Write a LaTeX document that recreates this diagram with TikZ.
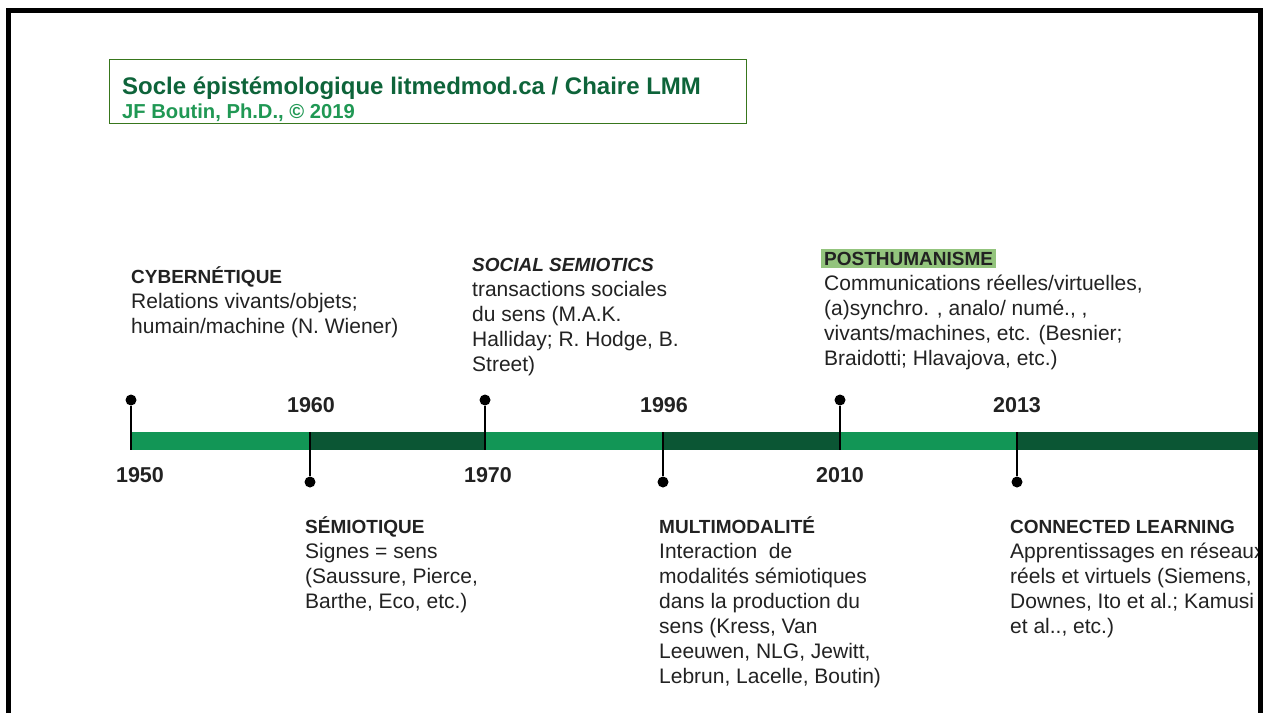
\documentclass[tikz,border=0pt]{standalone}
\usepackage{fontspec}
\setmainfont{Liberation Sans}
\usepackage{tikz}

\definecolor{barlight}{RGB}{18,150,86}
\definecolor{bardark}{RGB}{11,86,52}
\definecolor{titledark}{RGB}{14,100,58}
\definecolor{titlelight}{RGB}{32,152,84}
\definecolor{boxgreen}{RGB}{56,118,29}
\definecolor{hlgreen}{RGB}{147,196,125}
\definecolor{ink}{RGB}{34,34,34}

\tikzset{
  head/.style={anchor=base west,inner sep=0pt,text=ink,font=\fontsize{19}{25}\selectfont\bfseries},
  body/.style={anchor=base west,inner sep=0pt,align=left,text=ink,font=\fontsize{21}{25}\selectfont},
  year/.style={inner sep=0pt,text=ink,font=\fontsize{21.5}{22}\selectfont\bfseries},
  pin/.style={circle,fill=black,inner sep=0pt,minimum size=11pt},
  pinline/.style={black,line width=1.5pt}
}

\begin{document}
\begin{tikzpicture}[x=1pt,y=-1pt]
\useasboundingbox (0,0) rectangle (1267,713);
\fill[white] (0,0) rectangle (1267,713);

% title box
\draw[boxgreen,line width=1pt] (109,59) rectangle (746,123);
\node[anchor=base west,inner sep=0pt,text=titledark,font=\fontsize{24}{26}\selectfont\bfseries] (title) at (122,94) {Socle épistémologique litmedmod.ca / Chaire LMM};
\node[anchor=base west,inner sep=0pt,text=titlelight,font=\fontsize{20.2}{22}\selectfont\bfseries] (author) at (122,118) {JF Boutin, Ph.D., © 2019};

% timeline bar
\fill[barlight] (131,432) rectangle (310,450);
\fill[bardark] (310,432) rectangle (485,450);
\fill[barlight] (485,432) rectangle (663,450);
\fill[bardark] (663,432) rectangle (840,450);
\fill[barlight] (840,432) rectangle (1017,450);
\fill[bardark] (1017,432) rectangle (1267,450);

% pins
\coordinate (b1950) at (131,450);
\coordinate (b1960) at (310,432);
\coordinate (b1970) at (485,450);
\coordinate (b1996) at (663,432);
\coordinate (b2010) at (840,450);
\coordinate (b2013) at (1017,432);
\node[pin] (p1950) at (131,400) {};
\node[pin] (p1960) at (310,482) {};
\node[pin] (p1970) at (485,400) {};
\node[pin] (p1996) at (663,482) {};
\node[pin] (p2010) at (840,400) {};
\node[pin] (p2013) at (1017,482) {};
\draw[pinline] (p1950) -- (b1950);
\draw[pinline] (p1960) -- (b1960);
\draw[pinline] (p1970) -- (b1970);
\draw[pinline] (p1996) -- (b1996);
\draw[pinline] (p2010) -- (b2010);
\draw[pinline] (p2013) -- (b2013);

% years
\node[year] (y1950) at (140,475) {1950};
\node[year] (y1960) at (311,405) {1960};
\node[year] (y1970) at (488,475) {1970};
\node[year] (y1996) at (664,405) {1996};
\node[year] (y2010) at (840,475) {2010};
\node[year] (y2013) at (1017,405) {2013};

% periods above (body nodes sit on their last baseline)
\node[head] (cyb) at (131,283) {CYBERNÉTIQUE};
\node[body] (cybtxt) at (131,333) {Relations vivants/objets;\\humain/machine (N. Wiener)};
\node[head,font=\fontsize{19}{25}\selectfont\bfseries\itshape] (soc) at (472,271) {SOCIAL SEMIOTICS};
\node[body] (soctxt) at (472,371) {transactions sociales\\du sens (M.A.K.\\Halliday; R. Hodge, B.\\Street)};
\node[head,fill=hlgreen,inner xsep=3pt,inner ysep=3pt] (post) at (821,265) {POSTHUMANISME};
\node[body] (posttxt) at (824,365) {Communications réelles/virtuelles,\\(a)synchro. , analo/ numé., ,\\vivants/machines, etc. (Besnier;\\Braidotti; Hlavajova, etc.)};

% periods below
\node[head] (sem) at (305,533) {SÉMIOTIQUE};
\node[body] (semtxt) at (305,608) {Signes = sens\\(Saussure, Pierce,\\Barthe, Eco, etc.)};
\node[head] (multi) at (659,533) {MULTIMODALITÉ};
\node[body] (multitxt) at (659,683) {Interaction~ de\\modalités sémiotiques\\dans la production du\\sens (Kress, Van\\Leeuwen, NLG, Jewitt,\\Lebrun, Lacelle, Boutin)};
\node[head] (conn) at (1010,533) {CONNECTED LEARNING};
\node[body] (conntxt) at (1010,633) {Apprentissages en réseaux\\réels et virtuels (Siemens,\\Downes, Ito et al.; Kamusi\\et al.., etc.)};

% frame
\fill[white] (1262,0) rectangle (1267,713);
\draw[line width=5pt] (8,713) -- (8,10) -- (1260,10) -- (1260,713);
\end{tikzpicture}
\end{document}
